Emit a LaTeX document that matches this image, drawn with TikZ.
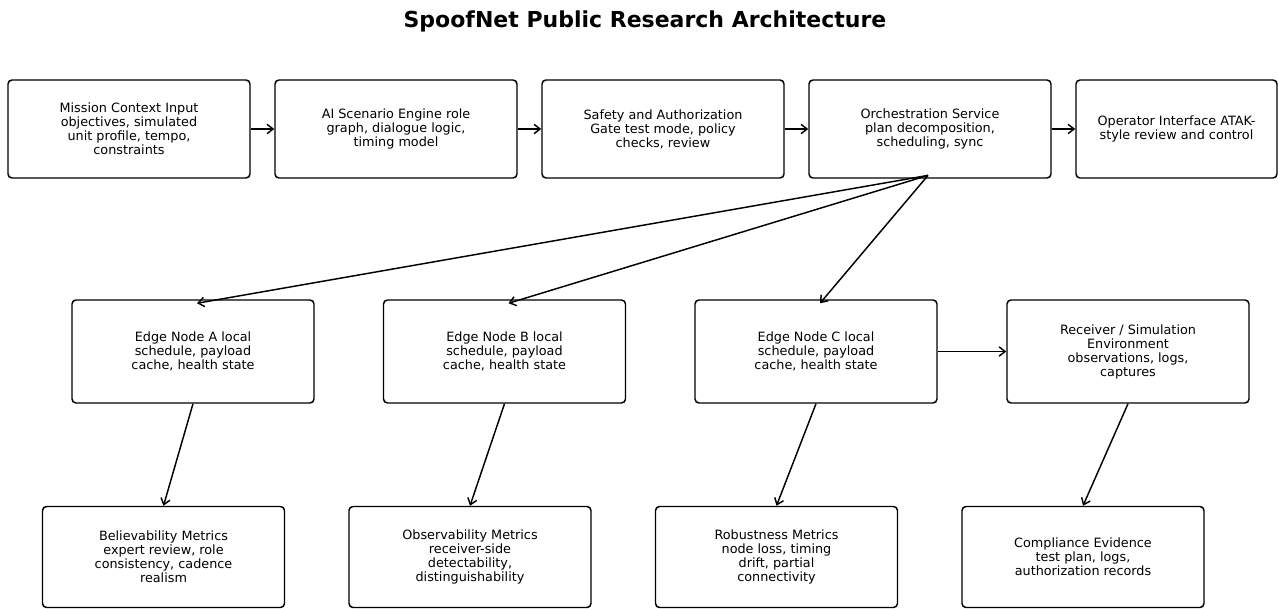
\documentclass[tikz,border=0pt]{standalone}
\usepackage{fontspec}
\setmainfont{DejaVu Sans}
\usetikzlibrary{arrows.meta}

\tikzset{
  box/.style={draw, line width=1.1pt, rounded corners=3pt, align=center,
    minimum width=181.5pt, minimum height=73.5pt, inner sep=0pt,
    font=\fontsize{9.6}{10.5}\selectfont},
  midbox/.style={box, minimum height=77.25pt},
  lowbox/.style={box, minimum height=75.75pt},
  flow/.style={line width=1.1pt, -{Straight Barb[length=4.5pt,width=7pt]}}
}

\begin{document}
\begin{tikzpicture}[x=0.75pt,y=-0.75pt]

            \useasboundingbox (0,0) rectangle (1278,609);

            % Title
            \node (title) at (645,21) {\fontsize{16.5}{19}\selectfont\bfseries SpoofNet Public Research Architecture};

            % Top row: the pipeline
            \foreach \nm/\x/\lab in {
            mission/129/{Mission Context Input\\objectives, simulated\\unit profile, tempo,\\constraints},
            engine/396/{AI Scenario Engine role\\graph, dialogue logic,\\timing model},
            gate/663/{Safety and Authorization\\Gate test mode, policy\\checks, review},
            orch/930/{Orchestration Service\\plan decomposition,\\scheduling, sync}} {
            \node [box] (\nm) at (\x,129) {\lab};
            }
            \node [box, minimum width=150.75pt] (oper) at (1176.5,129) {Operator Interface ATAK-\\style review and control};

            % Middle row: edge nodes and receiver
            \foreach \nm/\x/\lab in {
            edgea/193/{Edge Node A local\\schedule, payload\\cache, health state},
            edgeb/504.5/{Edge Node B local\\schedule, payload\\cache, health state},
            edgec/816/{Edge Node C local\\schedule, payload\\cache, health state},
            recv/1128/{Receiver / Simulation\\Environment\\observations, logs,\\captures}} {
            \node [midbox] (\nm) at (\x,351.5) {\lab};
            }

            % Bottom row: metrics and evidence
            \foreach \nm/\x/\lab in {
            believ/163.5/{Believability Metrics\\expert review, role\\consistency, cadence\\realism},
            observ/470/{Observability Metrics\\receiver-side\\detectability,\\distinguishability},
            robust/776.5/{Robustness Metrics\\node loss, timing\\drift, partial\\connectivity},
            compl/1083/{Compliance Evidence\\test plan, logs,\\authorization records}} {
            \node [lowbox] (\nm) at (\x,557) {\lab};
            }

            % Connectors
            \foreach \a/\b in {mission/engine, engine/gate, gate/orch, orch/oper, edgec/recv} {
            \draw [flow] (\a.east) -- (\b.west);
            }
            \foreach \b in {edgea, edgeb, edgec} {
            \draw [flow] ([xshift=-1.5pt,yshift=2.5pt]orch.south) -- ([xshift=3pt,yshift=-3pt]\b.north);
            }
            \foreach \a/\b in {edgea/believ, edgeb/observ, edgec/robust, recv/compl} {
            \draw [flow] (\a.south) -- (\b.north);
            }

\end{tikzpicture}
\end{document}
